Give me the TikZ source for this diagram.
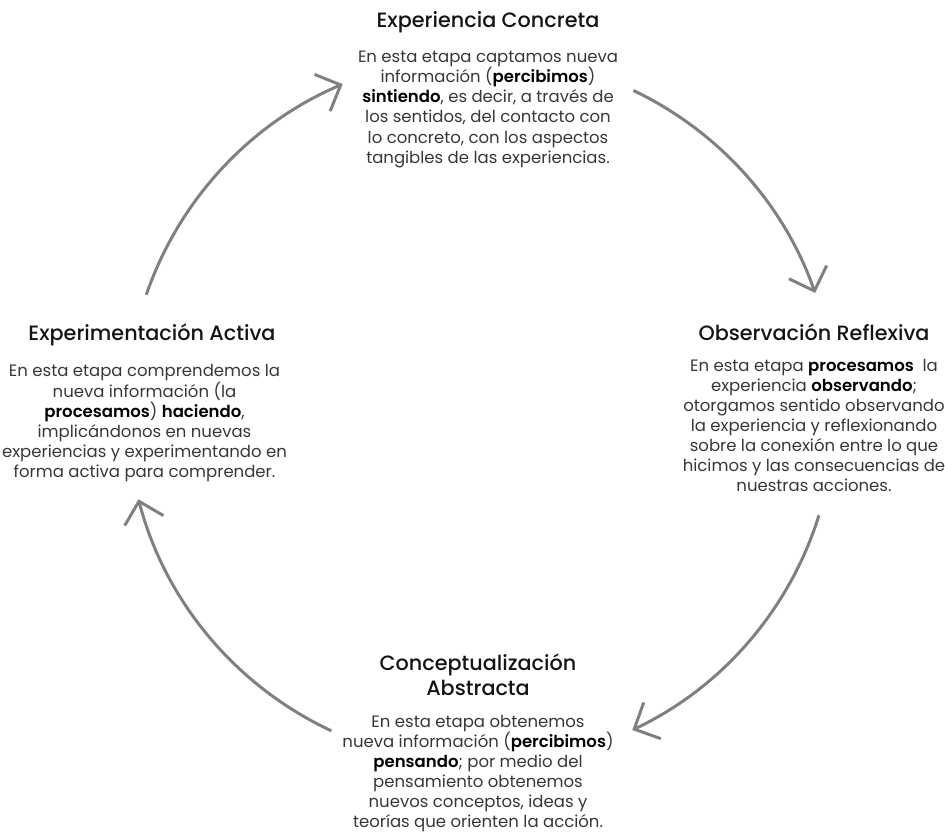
\documentclass[tikz,border=0pt]{standalone}
\usepackage{fontspec}
\setmainfont{Poppins}[BoldFont={* SemiBold}]
\newfontfamily\titulofont{Poppins Medium}
\usepackage{tikz}
\usetikzlibrary{positioning, arrows.meta}
\definecolor{trazo}{RGB}{128,128,128}
\definecolor{titulo}{RGB}{20,20,20}
\definecolor{cuerpo}{RGB}{55,55,55}
\newcommand{\fuerte}[1]{{\bfseries\color{black}#1}}
\tikzset{
  etapa/.style={inner sep=0pt, align=center, text=titulo, font=\titulofont\fontsize{11.8}{14.5}\selectfont},
  detalle/.style={inner sep=0pt, align=center, text=cuerpo, font=\fontsize{9.4}{11.4}\selectfont},
  ciclo/.style={draw=trazo, line width=1.7pt, -{Straight Barb[length=4mm, width=8mm]}}
}

\begin{document}
\begin{tikzpicture}[x=0.02cm, y=0.02cm]
    	\useasboundingbox (0,0) rectangle (945,834);
    	\coordinate (centro) at (481,424);

    	\node[etapa] (concreta) at (488,812) {Experiencia Concreta};
    	\node[detalle, below=3.6mm of concreta] (concretaTxt) {En esta etapa captamos nueva\\información (\fuerte{percibimos})\\\fuerte{sintiendo}, es decir, a través de\\los sentidos, del contacto con\\lo concreto, con los aspectos\\tangibles de las experiencias.};

    	\node[etapa] (reflexiva) at (814,502) {Observación Reflexiva};
    	\node[detalle, below=3.6mm of reflexiva] (reflexivaTxt) {En esta etapa \fuerte{procesamos}\ \ la\\experiencia \fuerte{observando};\\otorgamos sentido observando\\la experiencia y reflexionando\\sobre la conexión entre lo que\\hicimos y las consecuencias de\\nuestras acciones.};

    	\node[etapa] (abstracta) at (478,159) {Conceptualización\\Abstracta};
    	\node[detalle, below=3.6mm of abstracta] (abstractaTxt) {En esta etapa obtenemos\\nueva información (\fuerte{percibimos})\\\fuerte{pensando}; por medio del\\pensamiento obtenemos\\nuevos conceptos, ideas y\\teorías que orienten la acción.};

    	\node[etapa] (activa) at (152,499) {Experimentación Activa};
    	\node[detalle, below=3.6mm of activa, xshift=-1.5mm] (activaTxt) {En esta etapa comprendemos la\\nueva información (la\\\fuerte{procesamos}) \fuerte{haciendo},\\implicándonos en nuevas\\experiencias y experimentando en\\forma activa para comprender.};

    	% ciclo de Kolb
    	\draw[ciclo] ([shift={(161:354)}]centro) arc[start angle=161, end angle=113, radius=354];
    	\draw[ciclo] ([shift={(64.5:354)}]centro) arc[start angle=64.5, end angle=19.3, radius=354];
    	\draw[ciclo] ([shift={(-17.3:354)}]centro) arc[start angle=-17.3, end angle=-64.7, radius=354];
    	\draw[ciclo] ([shift={(-115:354)}]centro) arc[start angle=-115, end angle=-165.4, radius=354];
\end{tikzpicture}
\end{document}
